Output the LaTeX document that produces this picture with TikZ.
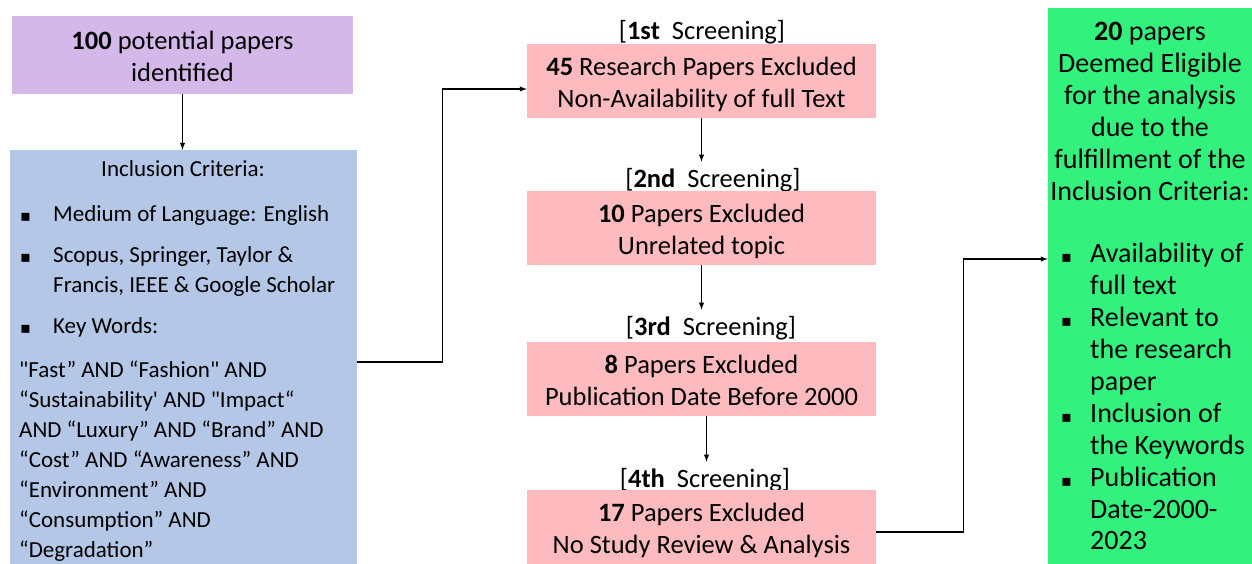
\documentclass[tikz,border=0pt]{standalone}
\usepackage{fontspec}
\newfontfamily\carlito{Carlito}
\newfontfamily\symfont{DejaVu Sans}
\usetikzlibrary{positioning}

\definecolor{idfpurple}{RGB}{213,184,234}
\definecolor{inclblue}{RGB}{180,199,231}
\definecolor{scrpink}{RGB}{254,187,191}
\definecolor{eliggreen}{RGB}{50,242,125}

\newcommand{\bul}{{\symfont\fontsize{16}{16}\selectfont ▪}}
\newcommand{\topstrut}{\rule{0pt}{63pt}}

\tikzset{
  txt/.style={font=\carlito\fontsize{23}{32}\selectfont, inner sep=0pt},
  midtxt/.style={font=\carlito\fontsize{26.5}{32}\selectfont, inner sep=0pt},
  bigtxt/.style={font=\carlito\fontsize{28}{32}\selectfont, inner sep=0pt},
  box/.style={inner sep=0pt, align=center,
    execute at begin node=\topstrut, execute at end node=\strut},
  idfbox/.style={box, midtxt, fill=idfpurple, minimum width=341pt, minimum height=78pt},
  inclbox/.style={fill=inclblue, inner sep=0pt, minimum width=347pt, minimum height=414pt},
  scrbox/.style={box, midtxt, fill=scrpink, minimum width=349pt, minimum height=74pt},
  eligbox/.style={fill=eliggreen, inner sep=0pt, minimum width=204pt, minimum height=556pt},
  scrlab/.style={midtxt, anchor=base, inner sep=6pt},
  bullet/.style={inner sep=0pt, anchor=base west},
  flow/.style={black, line width=1.4pt, ->}
}

\begin{document}
\begin{tikzpicture}[x=1pt, y=-1pt, >=latex]
  \useasboundingbox (0,0) rectangle (1252,564);

  % --- left column: identification and inclusion criteria ---
  \node[idfbox] (idf) at (182.5,55) {\textbf{100} potential papers\\identified};
  \node[inclbox] (incl) at (183.5,357) {};
  \node[txt, anchor=base] (incltitle) at (183,177) {Inclusion Criteria:};
  \foreach \y in {221,262,333}
    \node[bullet] (ib\y) at (20,\y) {\bul};
  \foreach \y/\s in {221/Medium of Language: English,
                     262/{Scopus, Springer, Taylor \&},
                     292/{Francis, IEEE \& Google Scholar},
                     333/Key Words:}
    \node[txt, anchor=base west] (it\y) at (53,\y) {\s};
  % key words
  \foreach \y/\s in {377/{"Fast” AND “Fashion" AND},
                     407/{“Sustainability' AND "Impact“},
                     437/{AND “Luxury” AND “Brand” AND},
                     467/{“Cost” AND “Awareness” AND},
                     497/{“Environment”  AND},
                     527/{“Consumption”  AND},
                     557/{“Degradation”}}
    \node[txt, anchor=base west] (kw\y) at (19,\y) {\s};

  % --- middle column: screenings ---
  \node[scrlab] (lab1) at (702,40)  {[\textbf{1st}\ \ Screening]};
  \node[scrlab] (lab2) at (713,187) {[\textbf{2nd}\ \ Screening]};
  \node[scrlab] (lab3) at (711,335) {[\textbf{3rd}\ \ Screening]};
  \node[scrlab] (lab4) at (705,487) {[\textbf{4th}\ \ Screening]};

  \node[scrbox] (scr1) at (701.5,81)  {\textbf{45} Research Papers Excluded\\Non-Availability of full Text};
  \node[scrbox] (scr2) at (701.5,228) {\textbf{10} Papers Excluded\\Unrelated topic};
  \node[scrbox] (scr3) at (701.5,379) {\textbf{8} Papers Excluded\\Publication Date Before 2000};
  \node[scrbox] (scr4) at (701.5,527) {\textbf{17} Papers Excluded\\No Study Review \& Analysis};

  % --- right column: eligible papers ---
  \node[eligbox] (elig) at (1150,286) {};
  \node[bigtxt, box] (eligtitle) at (1150,116)
    {\textbf{20} papers\\Deemed Eligible\\for the analysis\\due to the\\fulfillment of the\\Inclusion Criteria:};
  \foreach \y in {262,326,422,486}
    \node[bullet] (eb\y) at (1061,\y) {\bul};
  \foreach \y/\s in {262/Availability of, 294/full text, 326/Relevant to,
                     358/the research, 390/paper, 422/Inclusion of,
                     454/the Keywords, 486/Publication, 518/Date-2000-, 549/2023}
    \node[bigtxt, anchor=base west] (et\y) at (1090,\y) {\s};

  % --- connectors ---
  \draw[flow] (idf.south) -- (idf.south |- incl.north);
  \draw[flow] ([yshift=-5pt]incl.east) -- ++(85,0) |- ([yshift=-8pt]scr1.west);
  \draw[flow] (scr1.south) -- (scr1.south |- lab2.north);
  \draw[flow] (scr2.south) -- (scr2.south |- lab3.north);
  \draw[flow] ([xshift=5pt]scr3.south) -- ([xshift=5pt]scr3.south |- lab4.north);
  \draw[flow] ([yshift=-5pt]scr4.east) -- ++(87,0) |- ([yshift=27pt]elig.west);
\end{tikzpicture}
\end{document}
